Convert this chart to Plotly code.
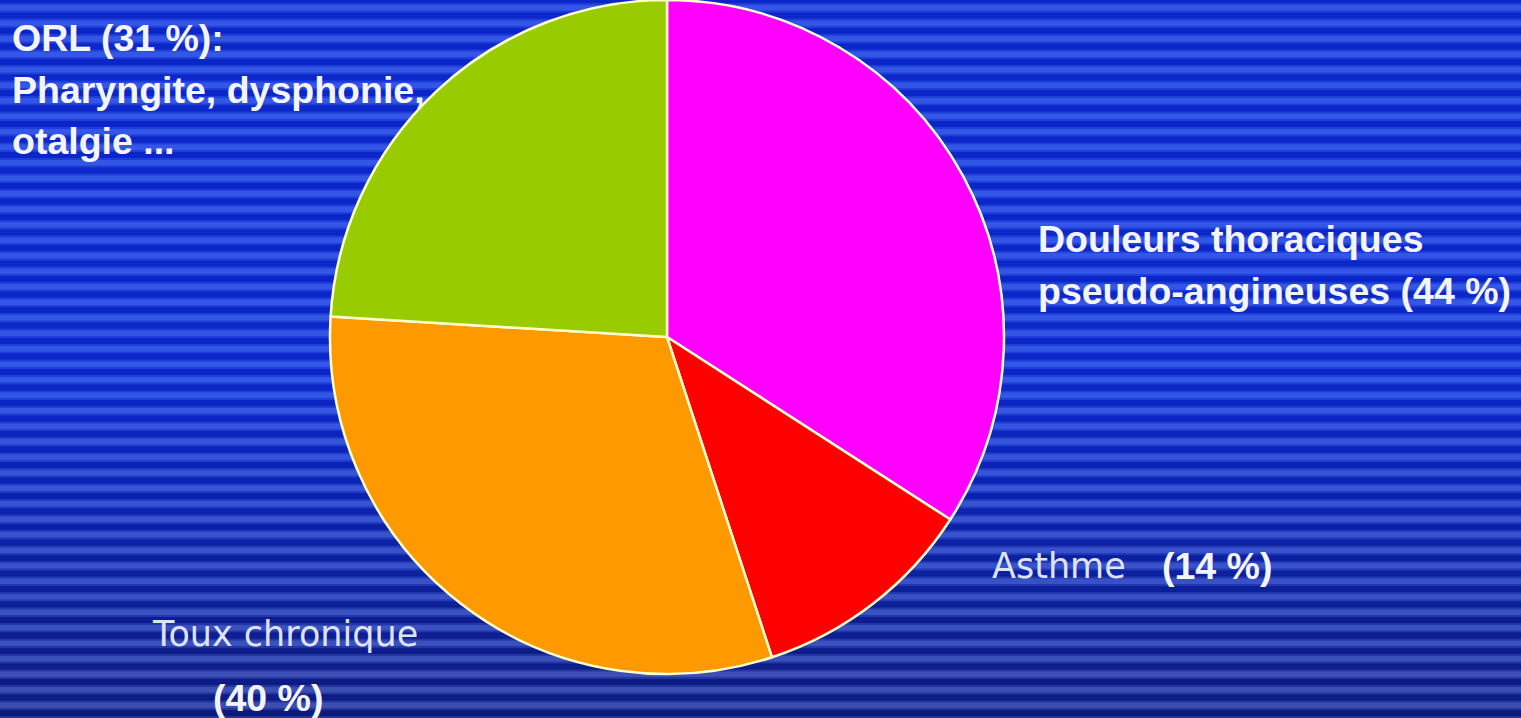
import plotly.graph_objects as go

# ---- data ----
categories = ["Douleurs thoraciques pseudo-angineuses", "Asthme", "Toux chronique", "ORL"]
values = [44, 14, 40, 31]
slice_colors = ["#ff00ff", "#ff0000", "#ff9900", "#99cc00"]

W, H = 1521, 718

fig = go.Figure()
fig.add_trace(go.Pie(
    labels=categories,
    values=values,
    sort=False,
    direction="clockwise",
    rotation=0,
    marker=dict(colors=slice_colors, line=dict(color="#ffffcc", width=2.5)),
    textinfo="none",
    hoverinfo="label+value",
    showlegend=False,
    domain=dict(x=[(667 - 337) / W, (667 + 337) / W], y=[(H - 674) / H, 1.0]),
))

# ---- striped blue background (decoration) ----
def lerp(a, b, t):
    return tuple(int(round(a[i] + (b[i] - a[i]) * t)) for i in range(3))

shapes = []
period = 15.5
n = int(H / period) + 2
for i in range(n):
    y0 = i * period
    y1 = y0 + period
    t = max(0.0, (y0 - 380) / (H - 380))
    dark = lerp((10, 38, 200), (12, 26, 122), t)
    light = lerp((52, 86, 230), (60, 78, 175), t)
    mid = lerp(dark, light, 0.5)
    for (a, b, c) in [(y0, y1, dark), (y0 + 3, y1 - 3, mid), (y0 + 5, y1 - 5, light)]:
        shapes.append(dict(
            type="rect", xref="paper", yref="paper", layer="below",
            x0=0, x1=1, y0=1 - b / H, y1=1 - a / H,
            fillcolor="rgb(%d,%d,%d)" % c, line=dict(width=0),
        ))

# ---- labels ----
bold_font = dict(family="Liberation Sans, Arial, sans-serif", size=37.5, color="#f4f4ff", weight="bold")
reg_font = dict(family="DejaVu Sans, sans-serif", size=35, color="#dfe3fa")

labels = [
    ("ORL (31 %):", 10, 38, bold_font),
    ("Pharyngite, dysphonie,", 10, 90, bold_font),
    ("otalgie ...", 10, 141, bold_font),
    ("Douleurs thoraciques", 1036, 239, bold_font),
    ("pseudo-angineuses (44 %)", 1036, 291, bold_font),
    ("Asthme", 990, 566, reg_font),
    ("(14 %)", 1160, 566, bold_font),
    ("Toux chronique", 150, 634, reg_font),
    ("(40 %)", 211, 698, bold_font),
]
annotations = [
    dict(text=t, x=x / W, y=1 - y / H, xref="paper", yref="paper",
         xanchor="left", yanchor="middle", showarrow=False, font=f)
    for (t, x, y, f) in labels
]

fig.update_layout(
    width=W, height=H,
    margin=dict(l=0, r=0, t=0, b=0),
    paper_bgcolor="#1a36d0",
    plot_bgcolor="#1a36d0",
    shapes=shapes,
    annotations=annotations,
)

fig.write_html("out.html", config={"displayModeBar": False})
